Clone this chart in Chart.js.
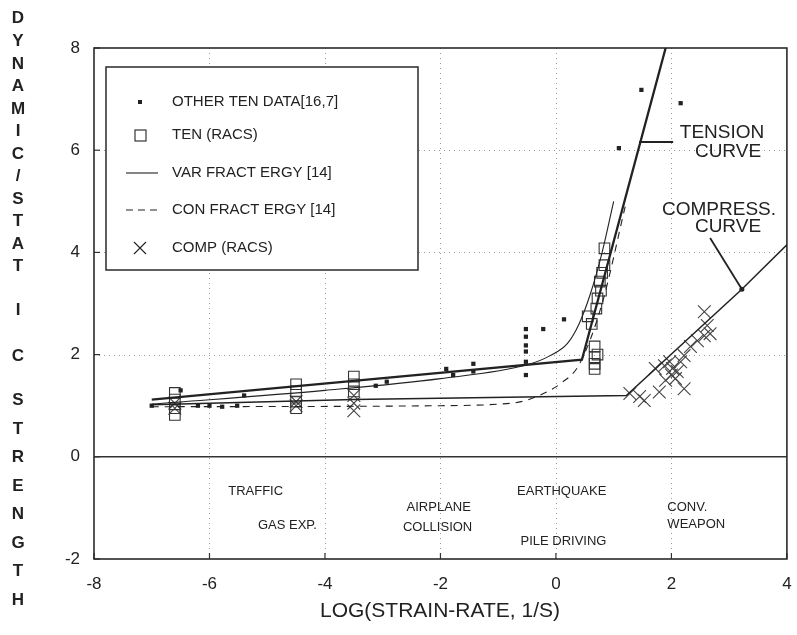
<!DOCTYPE html>
<html lang="en">
<head>
  <meta charset="UTF-8">
  <title>Dynamic/Static Strength vs Strain Rate</title>
  <script src="https://cdn.jsdelivr.net/npm/chart.js"></script>
  <style>
    body {
      margin: 0;
      background: #fff;
    }
    canvas {
      display: block;
    }
  </style>
</head>
<body>
  <canvas id="strengthChart" width="797" height="635"></canvas>

  <script>
    // axis ticks
    const xTicks = [-8, -6, -4, -2, 0, 2, 4];
    const yTicks = [-2, 0, 2, 4, 6, 8];

    // scatter data, [log strain rate, dynamic/static ratio]
    const otherTenData = [
      [-7.0, 1.0], [-6.5, 1.3], [-6.2, 1.0], [-6.0, 1.0], [-5.78, 0.98], [-5.52, 1.0], [-5.4, 1.2],
      [-3.12, 1.39], [-2.93, 1.47], [-1.9, 1.72], [-1.78, 1.6], [-1.43, 1.82], [-1.43, 1.67],
      [-0.52, 2.5], [-0.52, 2.35], [-0.52, 2.18], [-0.52, 2.06], [-0.52, 1.86], [-0.52, 1.6],
      [-0.22, 2.5], [0.14, 2.69], [1.09, 6.04], [1.48, 7.18], [2.16, 6.92]
    ];
    const tenRacs = [
      [-6.6, 1.25], [-6.6, 1.12], [-6.6, 0.95], [-6.6, 0.82],
      [-4.5, 1.42], [-4.5, 1.28], [-4.5, 1.08], [-4.5, 0.95],
      [-3.5, 1.57], [-3.5, 1.42], [-3.5, 1.28],
      [0.67, 2.16], [0.67, 1.95], [0.67, 1.82], [0.67, 1.72], [0.72, 2.0],
      [0.55, 2.75], [0.62, 2.6], [0.7, 2.9], [0.72, 3.1], [0.78, 3.25],
      [0.76, 3.43], [0.8, 3.6], [0.84, 3.75], [0.84, 4.08]
    ];
    const compRacs = [
      [-6.6, 1.05], [-6.6, 0.95], [-4.5, 1.08], [-4.5, 1.0],
      [-3.5, 1.2], [-3.5, 1.05], [-3.5, 0.9],
      [1.28, 1.24], [1.45, 1.18], [1.53, 1.1], [1.72, 1.73], [1.79, 1.27], [1.88, 1.78],
      [1.9, 1.5], [1.97, 1.86], [2.0, 1.6], [2.02, 1.73], [2.07, 1.53], [2.1, 1.67],
      [2.16, 1.86], [2.22, 1.98], [2.22, 1.33], [2.33, 2.16], [2.45, 2.27],
      [2.57, 2.37], [2.62, 2.57], [2.67, 2.41], [2.57, 2.84]
    ];

    // curves
    const tensionCurve = [[-7.0, 1.12], [0.45, 1.9], [1.9, 8.0]];
    const compressCurve = [[-7.0, 1.02], [-3.5, 1.12], [1.22, 1.2], [3.22, 3.28], [4.0, 4.15]];
    const varFractErgy = [
      [-7.0, 1.03], [-4.0, 1.3], [-2.0, 1.53], [-0.5, 1.8], [-0.1, 1.98],
      [0.2, 2.22], [0.4, 2.6], [0.6, 3.2], [0.8, 4.0], [1.0, 5.0]
    ];
    const conFractErgy = [
      [-7.0, 0.98], [-2.0, 1.0], [-1.0, 1.03], [-0.6, 1.08], [-0.25, 1.22],
      [0.1, 1.45], [0.4, 1.8], [0.8, 3.0], [1.2, 4.9]
    ];

    const legendItems = [
      { kind: "dot", text: "OTHER TEN DATA[16,7]" },
      { kind: "square", text: "TEN (RACS)" },
      { kind: "solid", text: "VAR FRACT ERGY [14]" },
      { kind: "dash", text: "CON FRACT ERGY [14]" },
      { kind: "cross", text: "COMP (RACS)" }
    ];

    // labels for loading events, in data units
    const eventLabels = [
      { text: "TRAFFIC", x: -5.2, y: -0.68, align: "center" },
      { text: "GAS EXP.", x: -4.65, y: -1.35, align: "center" },
      { text: "AIRPLANE", x: -2.03, y: -1.0, align: "center" },
      { text: "COLLISION", x: -2.05, y: -1.38, align: "center" },
      { text: "EARTHQUAKE", x: 0.1, y: -0.68, align: "center" },
      { text: "PILE DRIVING", x: 0.13, y: -1.65, align: "center" },
      { text: "CONV.", x: 1.93, y: -1.0, align: "left" },
      { text: "WEAPON", x: 1.93, y: -1.33, align: "left" }
    ];

    // stacked y title: letters and their rows
    const yTitleLetters = "DYNAMIC/STATICSTRENGTH".split("");
    const yTitleRows = [18, 41, 64, 86, 109, 131, 154, 176, 199, 221, 244, 266, 310, 356,
                        400, 429, 457, 486, 514, 543, 571, 600];

    const ink = "#222";
    const font = "'Liberation Sans', Arial, sans-serif";
    const toXY = arr => arr.map(p => ({ x: p[0], y: p[1] }));

    const decorations = {
      id: "decorations",
      beforeDatasetsDraw(chart) {
        const { ctx, chartArea: a, scales: { x, y } } = chart;
        ctx.save();
        // dotted grid
        ctx.strokeStyle = "#9a9a9a";
        ctx.lineWidth = 1;
        ctx.setLineDash([1, 4]);
        xTicks.slice(1, -1).forEach(v => {
          const px = Math.round(x.getPixelForValue(v)) + 0.5;
          ctx.beginPath(); ctx.moveTo(px, a.top); ctx.lineTo(px, a.bottom); ctx.stroke();
        });
        yTicks.slice(1, -1).forEach(v => {
          if (v === 0) return;
          const py = Math.round(y.getPixelForValue(v)) + 0.5;
          ctx.beginPath(); ctx.moveTo(a.left, py); ctx.lineTo(a.right, py); ctx.stroke();
        });
        ctx.setLineDash([]);
        // zero line
        ctx.strokeStyle = "#333";
        ctx.lineWidth = 1.5;
        const y0 = y.getPixelForValue(0);
        ctx.beginPath(); ctx.moveTo(a.left, y0); ctx.lineTo(a.right, y0); ctx.stroke();
        // inner tick marks
        ctx.lineWidth = 1.2;
        yTicks.forEach(v => {
          const py = y.getPixelForValue(v);
          ctx.beginPath(); ctx.moveTo(a.left, py); ctx.lineTo(a.left + 6, py); ctx.stroke();
        });
        xTicks.forEach(v => {
          const px = x.getPixelForValue(v);
          ctx.beginPath(); ctx.moveTo(px, a.bottom); ctx.lineTo(px, a.bottom - 6); ctx.stroke();
        });
        // frame
        ctx.strokeStyle = "#2a2a2a";
        ctx.lineWidth = 1.6;
        ctx.strokeRect(a.left, a.top, a.right - a.left, a.bottom - a.top);
        ctx.restore();
      },
      afterDatasetsDraw(chart) {
        const { ctx, scales: { x, y } } = chart;
        ctx.save();

        // legend box
        ctx.fillStyle = "#fff";
        ctx.fillRect(106, 67, 312, 203);
        ctx.strokeStyle = "#2a2a2a";
        ctx.lineWidth = 1.5;
        ctx.strokeRect(106, 67, 312, 203);
        const rows = [102, 135, 173, 210, 248];
        ctx.font = "15px " + font;
        ctx.textBaseline = "middle";
        ctx.textAlign = "left";
        legendItems.forEach((it, i) => {
          const ry = rows[i], mx = 140;
          ctx.strokeStyle = ink;
          ctx.fillStyle = ink;
          ctx.lineWidth = 1.1;
          ctx.setLineDash([]);
          if (it.kind === "dot") {
            ctx.fillRect(mx - 2, ry - 2, 4, 4);
          } else if (it.kind === "square") {
            ctx.strokeRect(mx - 5, ry - 5, 11, 11);
          } else if (it.kind === "solid") {
            ctx.beginPath(); ctx.moveTo(126, ry); ctx.lineTo(158, ry); ctx.stroke();
          } else if (it.kind === "dash") {
            ctx.setLineDash([7, 5]);
            ctx.beginPath(); ctx.moveTo(126, ry); ctx.lineTo(158, ry); ctx.stroke();
            ctx.setLineDash([]);
          } else {
            ctx.beginPath();
            ctx.moveTo(mx - 6, ry - 6); ctx.lineTo(mx + 6, ry + 6);
            ctx.moveTo(mx + 6, ry - 6); ctx.lineTo(mx - 6, ry + 6);
            ctx.stroke();
          }
          ctx.fillText(it.text, 172, ry);
        });

        // curve call-outs
        ctx.strokeStyle = ink;
        ctx.lineWidth = 1.8;
        const t0x = x.getPixelForValue(1.44), t0y = y.getPixelForValue(6.16);
        ctx.beginPath(); ctx.moveTo(t0x, t0y); ctx.lineTo(x.getPixelForValue(2.03), t0y); ctx.stroke();
        const c0x = x.getPixelForValue(2.67), c0y = y.getPixelForValue(4.28);
        const c1x = x.getPixelForValue(3.22), c1y = y.getPixelForValue(3.28);
        ctx.beginPath(); ctx.moveTo(c0x, c0y); ctx.lineTo(c1x, c1y); ctx.stroke();
        ctx.fillStyle = ink;
        ctx.beginPath(); ctx.arc(c1x, c1y, 2.5, 0, Math.PI * 2); ctx.fill();

        ctx.font = "19px " + font;
        ctx.textAlign = "center";
        ctx.fillText("TENSION", 722, 133);
        ctx.fillText("CURVE", 728, 152);
        ctx.fillText("COMPRESS.", 719, 210);
        ctx.fillText("CURVE", 728, 227);

        // loading events
        ctx.font = "13px " + font;
        eventLabels.forEach(l => {
          ctx.textAlign = l.align;
          ctx.fillText(l.text, x.getPixelForValue(l.x), y.getPixelForValue(l.y));
        });

        // axis titles
        ctx.textAlign = "center";
        ctx.font = "21px " + font;
        ctx.fillText("LOG(STRAIN-RATE, 1/S)", 440, 611);
        ctx.font = "bold 17px " + font;
        yTitleLetters.forEach((ch, i) => ctx.fillText(ch, 18, yTitleRows[i]));
        ctx.restore();
      }
    };

    const ctx = document.getElementById("strengthChart").getContext("2d");

    window.myChart = new Chart(ctx, {
      type: "scatter",
      data: {
        datasets: [
          {
            label: "Tension curve",
            data: toXY(tensionCurve),
            showLine: true,
            borderColor: ink,
            borderWidth: 2.3,
            pointRadius: 0
          },
          {
            label: "Compress. curve",
            data: toXY(compressCurve),
            showLine: true,
            borderColor: ink,
            borderWidth: 1.5,
            pointRadius: 0
          },
          {
            label: "VAR FRACT ERGY [14]",
            data: toXY(varFractErgy),
            showLine: true,
            cubicInterpolationMode: "monotone",
            borderColor: ink,
            borderWidth: 1.1,
            pointRadius: 0
          },
          {
            label: "CON FRACT ERGY [14]",
            data: toXY(conFractErgy),
            showLine: true,
            cubicInterpolationMode: "monotone",
            borderColor: ink,
            borderWidth: 1.1,
            borderDash: [7, 6],
            pointRadius: 0
          },
          {
            label: "OTHER TEN DATA[16,7]",
            data: toXY(otherTenData),
            pointStyle: "rect",
            pointRadius: 3,
            backgroundColor: ink,
            borderColor: ink,
            borderWidth: 0
          },
          {
            label: "TEN (RACS)",
            data: toXY(tenRacs),
            pointStyle: "rect",
            pointRadius: 7.5,
            backgroundColor: "rgba(0,0,0,0)",
            borderColor: "#333",
            borderWidth: 1.1
          },
          {
            label: "COMP (RACS)",
            data: toXY(compRacs),
            pointStyle: "crossRot",
            pointRadius: 9,
            borderColor: "#444",
            borderWidth: 1.1
          }
        ]
      },
      options: {
        responsive: false,
        animation: false,
        layout: {
          padding: { top: 48, right: 5, left: 0, bottom: 0 }
        },
        plugins: {
          legend: { display: false },
          tooltip: { enabled: false }
        },
        scales: {
          x: {
            type: "linear",
            min: -8,
            max: 4,
            afterBuildTicks: s => { s.ticks = xTicks.map(v => ({ value: v })); },
            afterFit: s => { s.height = 76; s.paddingLeft = 0; s.paddingRight = 0; },
            grid: { display: false, drawTicks: false },
            border: { display: false },
            ticks: {
              padding: 15,
              color: ink,
              font: { family: font, size: 17 }
            }
          },
          y: {
            type: "linear",
            min: -2,
            max: 8,
            afterBuildTicks: s => { s.ticks = yTicks.map(v => ({ value: v })); },
            afterFit: s => { s.width = 94; s.paddingTop = 0; s.paddingBottom = 0; },
            grid: { display: false, drawTicks: false },
            border: { display: false },
            ticks: {
              padding: 14,
              color: ink,
              font: { family: font, size: 17 }
            }
          }
        }
      },
      plugins: [decorations]
    });
  </script>
</body>
</html>
